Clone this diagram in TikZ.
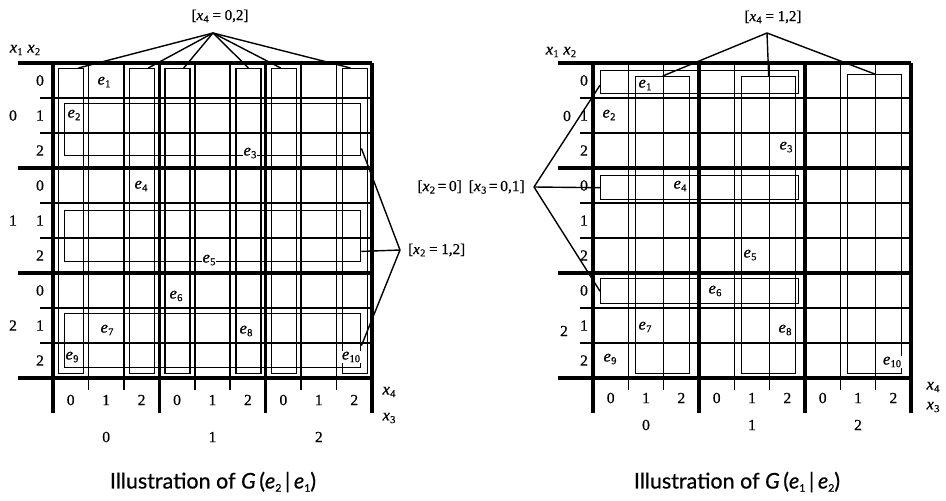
\documentclass[tikz,border=0pt]{standalone}
\usepackage{fontspec}
\setmainfont[FakeBold=0.8]{Liberation Serif}
\newfontfamily\capfont[FakeBold=0.6]{Lato}
% italic variable with a lowered index
\newcommand\vx[2]{\textit{#1}\kern0.3pt\raisebox{-0.35ex}{\fontsize{10.5}{10.5}\selectfont #2}}
% one Karnaugh-style map: #1 left edge, #2 column width, #3 end of heavy rules, #4 end of light ticks
\newcommand\kmap[4]{%
  \foreach \i in {1,2,4,5,7,8}
    \draw[gridthin] (#4,{63+35*\i}) -- ({#1+9*#2},{63+35*\i});
  \foreach \i in {0,3,6,9}
    \draw[gridthick] (#3,{63+35*\i}) -- ({#1+9*#2},{63+35*\i});
  \foreach \j in {1,2,4,5,7,8}
    \draw[gridthin] ({#1+#2*\j},63) -- ({#1+#2*\j},390);
  \foreach \j in {0,3,6,9}
    \draw[gridthick] ({#1+#2*\j},63) -- ({#1+#2*\j},413);
}
\begin{document}
\begin{tikzpicture}[x=1pt,y=-1pt,
  gridthin/.style={line width=1.5pt},
  gridthick/.style={line width=3.4pt, line cap=square},
  cpx/.style={draw, line width=1.4pt, inner sep=0pt, anchor=north west},
  lead/.style={line width=1.4pt},
  num/.style={inner sep=0pt, font=\fontsize{15.5}{15.5}\selectfont},
  ev/.style={inner sep=0.5pt, font=\fontsize{16.5}{16.5}\selectfont},
  evw/.style={ev, fill=white},
  brk/.style={inner sep=0pt, font=\fontsize{15}{15}\selectfont},
  captext/.style={inner sep=0pt, font=\capfont\fontsize{21.5}{21.5}\selectfont}]
\useasboundingbox (0,0) rectangle (946,501);

% ---------------- left map: G(e2|e1) ----------------
\kmap{53}{35.444}{18}{40}

% complex [x4 = 0,2]
\foreach \c/\n in {0/0,2/2,3/3,5/5,6/6,8/8}
  \node[cpx, minimum width=25pt, minimum height=305pt] (La\n) at ({58+35.444*\c},68) {};
% complex [x2 = 1,2]
\node[cpx, minimum width=296pt, minimum height=52pt] (Lb0) at (64,103) {};
\node[cpx, minimum width=296pt, minimum height=51pt] (Lb1) at (64,210) {};
\node[cpx, minimum width=296pt, minimum height=54pt] (Lb2) at (64,313) {};

% events
\node[ev]  (Le1)  at (104,82)  {\vx{e}{1}};
\node[evw] (Le2)  at (74,115)  {\vx{e}{2}};
\node[evw] (Le3)  at (250,153) {\vx{e}{3}};
\node[ev]  (Le4)  at (141,186) {\vx{e}{4}};
\node[evw] (Le5)  at (209,260) {\vx{e}{5}};
\node[ev]  (Le6)  at (176,296) {\vx{e}{6}};
\node[ev]  (Le7)  at (107,330) {\vx{e}{7}};
\node[ev]  (Le8)  at (246,331) {\vx{e}{8}};
\node[evw] (Le9)  at (72,357)  {\vx{e}{9}};
\node[evw] (Le10) at (351,357) {\vx{e}{10}};

% axis labels
\node[ev] (Lx12) at (25,50) {\vx{x}{1}\;\vx{x}{2}};
\foreach \i/\v in {0/0,1/1,2/2,3/0,4/1,5/2,6/0,7/1,8/2}
  \node[num] (Lr\i) at (40,{80.5+35*\i}) {\v};
\foreach \i/\v in {0/0,1/1,2/2}
  \node[num] (Lq\i) at (13,{115.5+105*\i}) {\v};
\foreach \j/\v in {0/0,1/1,2/2,3/0,4/1,5/2,6/0,7/1,8/2}
  \node[num] (Lc\j) at ({70.7+35.444*\j},400) {\v};
\foreach \j/\v in {0/0,1/1,2/2}
  \node[num] (Lg\j) at ({106.2+106.33*\j},437) {\v};
\node[ev] (Lx4) at (389,392) {\vx{x}{4}};
\node[ev] (Lx3) at (389,418) {\vx{x}{3}};

% bracket labels and their leads
\node[brk] (LB4) at (220,16) {[\vx{x}{4} = 0,2]};
\coordinate (LA4) at (213,33);
\draw[lead] (LA4) -- ([xshift=-6pt]La0.north east);
\draw[lead] (LA4) -- ([xshift=-7pt]La2.north east);
\draw[lead] (LA4) -- ([xshift=-7pt]La3.north east);
\draw[lead] (LA4) -- (La5.north);
\draw[lead] (LA4) -- ([xshift=10pt]La6.north west);
\draw[lead] (LA4) -- ([xshift=9pt]La8.north west);

\node[brk, anchor=west] (LB2) at (408,250) {[\vx{x}{2} = 1,2]};
\coordinate (LA2) at (400,250);
\draw[lead] (LA2) -- ([yshift=8pt]Lb0.south east);
\draw[lead] (LA2) -- ([yshift=11pt]Lb1.south east);
\draw[lead] (LA2) -- ([yshift=-5pt]Lb2.east);

\node[captext] (Lcap) at (213,482) {Illustration of \textit{G}\,(\textit{e}\raisebox{-0.3ex}{\fontsize{10.5}{10.5}\selectfont 2}\,|\,\textit{e}\raisebox{-0.3ex}{\fontsize{10.5}{10.5}\selectfont 1})};

% ---------------- right map: G(e1|e2) ----------------
\kmap{593}{35.333}{558}{580}

% complex [x4 = 1,2]
\node[cpx, minimum width=54pt, minimum height=297pt] (Ra0) at (635,76) {};
\node[cpx, minimum width=54pt, minimum height=297pt] (Ra1) at (741,76) {};
\node[cpx, minimum width=54pt, minimum height=299pt] (Ra2) at (847,74) {};
% complex [x2 = 0][x3 = 0,1]
\node[cpx, minimum width=198pt, minimum height=23pt] (Rb0) at (600,70) {};
\node[cpx, minimum width=198pt, minimum height=24pt] (Rb1) at (600,175) {};
\node[cpx, minimum width=198pt, minimum height=25pt] (Rb2) at (600,278) {};

% events
\node[ev]  (Re1)  at (645,85)  {\vx{e}{1}};
\node[ev]  (Re2)  at (609,115) {\vx{e}{2}};
\node[ev]  (Re3)  at (786,147) {\vx{e}{3}};
\node[ev]  (Re4)  at (680,186) {\vx{e}{4}};
\node[ev]  (Re5)  at (750,255) {\vx{e}{5}};
\node[ev]  (Re6)  at (715,291) {\vx{e}{6}};
\node[ev]  (Re7)  at (645,327) {\vx{e}{7}};
\node[ev]  (Re8)  at (785,330) {\vx{e}{8}};
\node[ev]  (Re9)  at (610,359) {\vx{e}{9}};
\node[evw] (Re10) at (892,362) {\vx{e}{10}};

% axis labels
\node[ev] (Rx12) at (561,52) {\vx{x}{1}\;\vx{x}{2}};
\foreach \i/\v in {0/0,1/1,2/2,3/0,4/1,5/2,6/0,7/1,8/2}
  \node[num] (Rr\i) at (584,{80.5+35*\i}) {\v};
\node[num] (Rq0) at (567,116) {0};
\node[num] (Rq2) at (564,331) {2};
\foreach \j/\v in {0/0,1/1,2/2,3/0,4/1,5/2,6/0,7/1,8/2}
  \node[num] (Rc\j) at ({610.7+35.333*\j},398) {\v};
\foreach \j/\v in {0/0,1/1,2/2}
  \node[num] (Rg\j) at ({646+106*\j},425) {\v};
\node[ev] (Rx4) at (933,387) {\vx{x}{4}};
\node[ev] (Rx3) at (933,407) {\vx{x}{3}};

% bracket labels and their leads
\node[brk] (RB4) at (773,17) {[\vx{x}{4} = 1,2]};
\coordinate (RA4) at (767,33);
\draw[lead] (RA4) -- (Ra0.north);
\draw[lead] (RA4) -- (Ra1.north);
\draw[lead] (RA4) -- (Ra2.north);

\node[brk, anchor=east, font=\fontsize{15.5}{15.5}\selectfont] (RB23) at (525,187) {[\vx{x}{2}\,=\,0]\;\,[\vx{x}{3}\,=\,0,1]};
\coordinate (RA23) at (534,187);
\draw[lead] (RA23) -- ([yshift=-3pt]Rb0.west);
\draw[lead] (RA23) -- (Rb1.west);
\draw[lead] (RA23) -- (Rb2.west);

\node[captext] (Rcap) at (737,482) {Illustration of \textit{G}\,(\textit{e}\raisebox{-0.3ex}{\fontsize{10.5}{10.5}\selectfont 1}\,|\,\textit{e}\raisebox{-0.3ex}{\fontsize{10.5}{10.5}\selectfont 2})};
\end{tikzpicture}
\end{document}
